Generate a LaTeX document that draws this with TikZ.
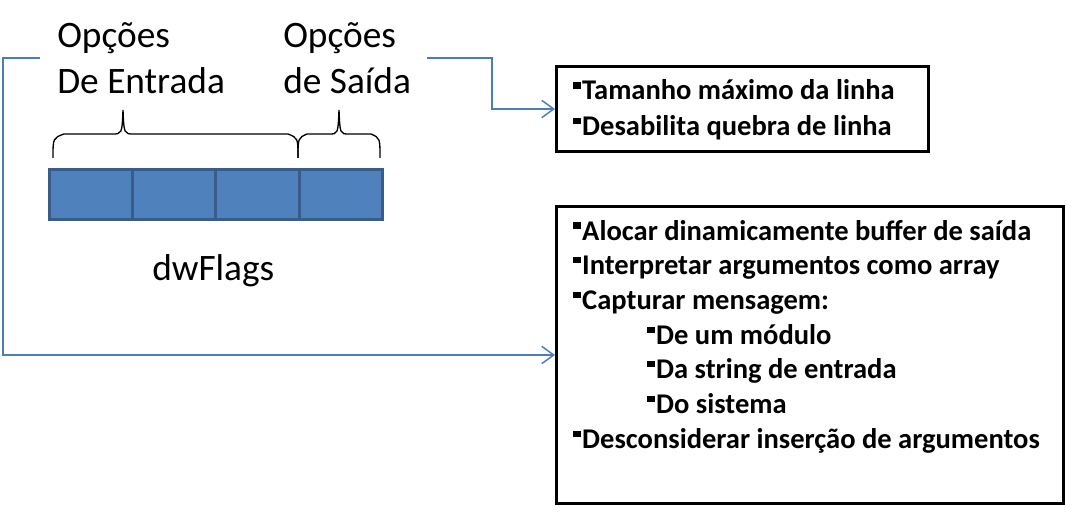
\documentclass[tikz,border=0pt]{standalone}
\usepackage{fontspec}
\setmainfont{Carlito}
\usetikzlibrary{arrows.meta}
\definecolor{barfill}{HTML}{4F81BD}
\definecolor{barline}{HTML}{385D8A}
\definecolor{conn}{HTML}{4A7EBB}
\newcommand\myblt{\raisebox{8.6pt}{\rule{5.8pt}{4.6pt}}\kern0.9pt}
\tikzset{
  lbl/.style={anchor=base west, inner sep=0pt, font=\fontsize{28}{33}\selectfont},
  itemtxt/.style={anchor=base west, inner sep=0pt, font=\fontsize{21.4}{26}\selectfont\bfseries},
  infobox/.style={draw=black, line width=2.25pt, anchor=north west, inner sep=0pt},
  cell/.style={draw=barline, fill=barfill, line width=2.1pt, anchor=north west, minimum width=62.4pt, minimum height=37.5pt, inner sep=0pt},
  brc/.style={draw=black, line width=1pt},
  connector/.style={draw=conn, line width=1.1pt, -{Straight Barb[length=9pt,width=13pt,line width=1.1pt]}}
}
\begin{document}
\begin{tikzpicture}[x=0.75pt,y=-0.75pt]
\useasboundingbox (0,0) rectangle (1066,520);
% labels
\node[lbl] (in1) at (57,48) {Opções};
\node[lbl] (in2) at (57,94) {De Entrada};
\node[lbl] (out1) at (283,48) {Opções};
\node[lbl] (out2) at (283,94) {de Saída};
\node[lbl] (dw) at (152,280) {dwFlags};
% bar cells
\node[cell] (c1) at (48,168) {};
\node[cell] (c2) at (131.25,168) {};
\node[cell] (c3) at (214.5,168) {};
\node[cell] (c4) at (297.75,168) {};
% braces
\draw[brc] (53,158) .. controls (53,138) .. (64,134) -- (112,134) .. controls (122,134) .. (123,110)
  .. controls (124,134) .. (134,134) -- (288,134) .. controls (298,138) .. (298,158);
\draw[brc] (298,158) .. controls (298,138) .. (307,134) -- (329,134) .. controls (338,134) .. (339,110)
  .. controls (340,134) .. (349,134) -- (371,134) .. controls (380,138) .. (380,158);
% boxes
\node[infobox, minimum width=279pt, minimum height=63.75pt] (box1) at (555,65) {};
\node[infobox, minimum width=380.25pt, minimum height=222.75pt] (box2) at (555,205) {};
% box1 text
\node[itemtxt] (t1) at (573,100) {\myblt Tamanho máximo da linha};
\node[itemtxt] (t2) at (573,135.5) {\myblt Desabilita quebra de linha};
% box2 text
\node[itemtxt] (u1) at (573,240) {\myblt Alocar dinamicamente buffer de saída};
\node[itemtxt] (u2) at (573,274.7) {\myblt Interpretar argumentos como array};
\node[itemtxt] (u3) at (573,309.4) {\myblt Capturar mensagem:};
\node[itemtxt] (u4) at (647,344.1) {\myblt De um módulo};
\node[itemtxt] (u5) at (647,378.8) {\myblt Da string de entrada};
\node[itemtxt] (u6) at (647,413.5) {\myblt Do sistema};
\node[itemtxt] (u7) at (573,448.2) {\myblt Desconsiderar inserção de argumentos};
% connectors
\coordinate (s1) at (427,58);
\coordinate (s2) at (40,58);
\draw[connector] (s1) -- (492,58) |- (box1.west);
\draw[connector] (s2) -- (3,58) |- (box2.west);
\end{tikzpicture}
\end{document}
